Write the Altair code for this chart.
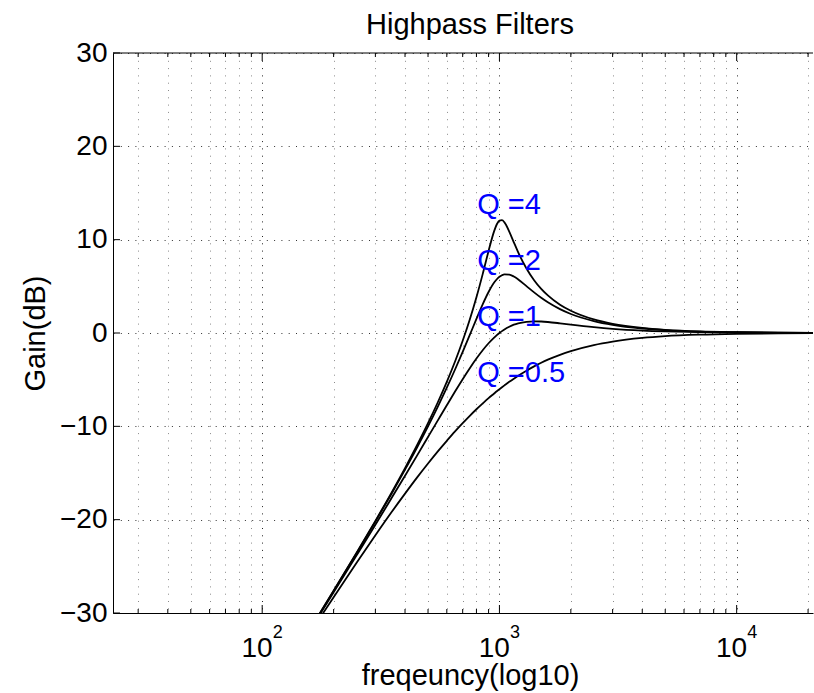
import altair as alt
import pandas as pd

# ---------------- data ----------------
freqs = [150, 175, 200, 250, 300, 350, 400, 450, 500, 550, 600, 650, 700, 750,
         800, 850, 900, 950, 975, 1000, 1025, 1050, 1100, 1150, 1200, 1300,
         1400, 1500, 1600, 1800, 2000, 2500, 3000, 4000, 5000, 7000, 10000,
         15000, 21000]

gain_q05 = [-33.15, -30.54, -28.30, -24.61, -21.67, -19.24, -17.21, -15.47,
            -13.98, -12.68, -11.55, -10.54, -9.66, -8.87, -8.17, -7.55, -6.98,
            -6.48, -6.24, -6.02, -5.81, -5.61, -5.23, -4.89, -4.58, -4.04,
            -3.58, -3.19, -2.86, -2.34, -1.94, -1.29, -0.92, -0.53, -0.34,
            -0.18, -0.09, -0.04, -0.02]
gain_q1 = [-32.86, -30.15, -27.79, -23.82, -20.55, -17.74, -15.29, -13.11,
           -11.14, -9.36, -7.74, -6.27, -4.95, -3.77, -2.74, -1.85, -1.10,
           -0.49, -0.23, 0.00, 0.20, 0.38, 0.67, 0.89, 1.04, 1.20, 1.25, 1.23,
           1.18, 1.04, 0.90, 0.63, 0.45, 0.26, 0.17, 0.09, 0.04, 0.02, 0.01]
gain_q2 = [-32.78, -30.05, -27.65, -23.60, -20.21, -17.27, -14.64, -12.24,
           -10.00, -7.88, -5.86, -3.91, -2.02, -0.21, 1.51, 3.07, 4.39, 5.40,
           5.76, 6.02, 6.19, 6.28, 6.26, 6.05, 5.74, 5.02, 4.35, 3.77, 3.29,
           2.56, 2.04, 1.28, 0.87, 0.48, 0.31, 0.15, 0.08, 0.03, 0.02]
gain_q4 = [-32.77, -30.02, -27.62, -23.54, -20.13, -17.15, -14.47, -11.99,
           -9.66, -7.42, -5.23, -3.05, -0.83, 1.45, 3.83, 6.31, 8.79, 10.92,
           11.65, 12.04, 12.09, 11.85, 10.87, 9.72, 8.64, 6.91, 5.66, 4.73,
           4.03, 3.03, 2.38, 1.45, 0.98, 0.54, 0.34, 0.17, 0.09, 0.04, 0.02]
q_names = ["0.5", "1", "2", "4"]

label_text = ["Q =4", "Q =2", "Q =1", "Q =0.5"]
label_f = [806, 806, 806, 806]
label_db = [12.8, 6.8, 0.8, -5.25]

major_ticks = [100, 1000, 10000]
minor_ticks = [30, 40, 50, 60, 70, 80, 90,
               200, 300, 400, 500, 600, 700, 800, 900,
               2000, 3000, 4000, 5000, 6000, 7000, 8000, 9000, 20000]
y_ticks = [-30, -20, -10, 0, 10, 20, 30]
exponents = ["2", "3", "4"]

# ---------------- tables ----------------
rows = []
for q, g in zip(q_names, [gain_q05, gain_q1, gain_q2, gain_q4]):
    for f, v in zip(freqs, g):
        rows.append({"f": f, "gain": v, "Q": q})
df = pd.DataFrame(rows)
labels_df = pd.DataFrame({"f": label_f, "gain": label_db, "text": label_text})
major_df = pd.DataFrame({"f": major_ticks, "e": exponents})
minor_df = pd.DataFrame({"f": minor_ticks})
yt_df = pd.DataFrame({"gain": y_ticks})
one_df = pd.DataFrame({"gain": [30]})
grid_x = sorted(major_ticks + minor_ticks)

FONT = "Liberation Sans"
W, H = 700, 560
xscale = alt.Scale(type="log", domain=[23.5, 20980], nice=False)
yscale = alt.Scale(domain=[-30, 30], nice=False, zero=False)

major_test = " || ".join(f"datum.value == {v}" for v in major_ticks)

x_axis = alt.Axis(
    values=grid_x, labels=False, ticks=False, tickSize=0,
    grid=True, gridDash=[1, 6.3],
    gridColor={"condition": {"test": major_test, "value": "#222"}, "value": "#8a8a8a"},
    gridOpacity=1,
    domainColor="black", domainWidth=1,
    title="freqeuncy(log10)", titleFont=FONT, titleFontSize=29,
    titleFontWeight="normal", titleColor="black",
    titleX=357, titleY=71, titleBaseline="alphabetic", titleAlign="center")
y_axis = alt.Axis(
    values=y_ticks, ticks=False, tickSize=0, labelPadding=6,
    labelFont=FONT, labelFontSize=28, labelColor="black",
    grid=True, gridDash=[1, 6.3], gridColor="#333", gridOpacity=1,
    domainColor="black", domainWidth=1,
    title="Gain(dB)", titleFont=FONT, titleFontSize=29,
    titleFontWeight="normal", titleColor="black",
    titleX=-69, titleY=280, titleAngle=270,
    titleBaseline="alphabetic", titleAlign="center")

X = alt.X("f:Q", scale=xscale, axis=x_axis)
Y = alt.Y("gain:Q", scale=yscale, axis=y_axis)

lines = alt.Chart(df).mark_line(
    color="black", strokeWidth=1.8, clip=True, interpolate="monotone"
).encode(x=X, y=Y, detail="Q:N")

qlabels = alt.Chart(labels_df).mark_text(
    align="left", baseline="alphabetic", font=FONT, fontSize=29, color="#0000FF"
).encode(x=X, y=Y, text="text:N")

top_border = alt.Chart(one_df).mark_rule(color="black", strokeWidth=1).encode(y=Y)

bx_major = alt.Chart(major_df).mark_rule(color="black", strokeWidth=1).encode(
    x=X, y=alt.value(H), y2=alt.value(H - 8))
bx_minor = alt.Chart(minor_df).mark_rule(color="black", strokeWidth=1).encode(
    x=X, y=alt.value(H), y2=alt.value(H - 4))
tx_major = alt.Chart(major_df).mark_rule(color="black", strokeWidth=1).encode(
    x=X, y=alt.value(0), y2=alt.value(8))
tx_minor = alt.Chart(minor_df).mark_rule(color="black", strokeWidth=1).encode(
    x=X, y=alt.value(0), y2=alt.value(4))
ly_ticks = alt.Chart(yt_df).mark_rule(color="black", strokeWidth=1).encode(
    y=Y, x=alt.value(0), x2=alt.value(7))

ten_text = alt.Chart(major_df).mark_text(
    text="10", align="right", baseline="alphabetic", dx=10.5, dy=44,
    font=FONT, fontSize=28, color="black"
).encode(x=X, y=alt.datum(-30))
exp_text = alt.Chart(major_df).mark_text(
    align="left", baseline="alphabetic", dx=10.5, dy=25,
    font=FONT, fontSize=18, color="black"
).encode(x=X, y=alt.datum(-30), text="e:N")

chart = alt.layer(
    lines, qlabels, top_border, bx_major, bx_minor, tx_major, tx_minor,
    ly_ticks, ten_text, exp_text
).properties(
    width=W, height=H,
    title=alt.TitleParams("Highpass Filters", font=FONT, fontSize=29,
                          fontWeight="normal", color="black", anchor="middle",
                          baseline="alphabetic", offset=-24, dx=7, frame="group"),
    autosize=alt.AutoSizeParams(type="none"),
    padding={"left": 113, "top": 53, "right": 1, "bottom": 80},
).configure(background="white").configure_view(stroke=None)

chart.save("out.html", embed_options={"renderer": "svg", "actions": False})
